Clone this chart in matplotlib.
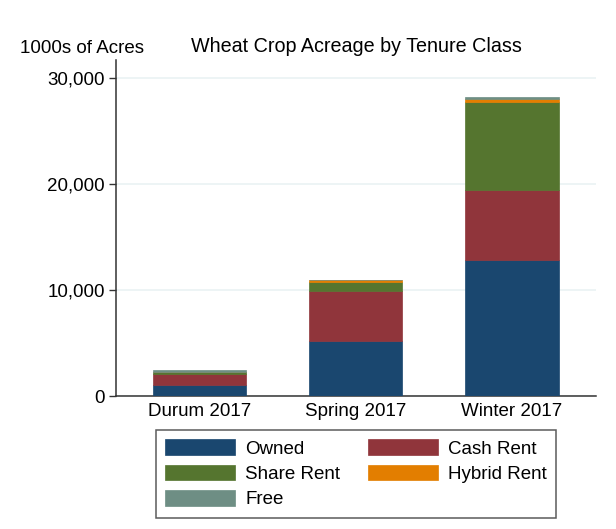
import matplotlib
matplotlib.use("Agg")
import matplotlib.pyplot as plt
import numpy as np

plt.rcParams['font.family'] = ['Liberation Sans', 'DejaVu Sans']

categories = ["Durum 2017", "Spring 2017", "Winter 2017"]
series_names = ["Owned", "Cash Rent", "Share Rent", "Hybrid Rent", "Free"]
owned = [1040, 5190, 12800]
cash_rent = [1035, 4690, 6630]
share_rent = [185, 870, 8270]
hybrid_rent = [30, 150, 320]
free = [160, 60, 220]
colors = ["#1a476f", "#90353b", "#55752f", "#e37e00", "#6e8e84"]
yticks = [0, 10000, 20000, 30000]

fs = 13.5
fig = plt.figure(figsize=(6.16, 5.29), dpi=100)
ax = fig.add_axes([0.188, 0.2514, 0.7795, 0.6352])

x = np.arange(len(categories))
bottom = np.zeros(len(categories))
handles = []
for name, vals, c in zip(series_names, [owned, cash_rent, share_rent, hybrid_rent, free], colors):
    b = ax.bar(x, vals, width=0.6, bottom=bottom, color=c, edgecolor=c, linewidth=0.5, label=name, zorder=3)
    handles.append(b)
    bottom += np.array(vals)

ax.set_xlim(-0.535, 2.54)
ax.set_ylim(0, 31700)
ax.set_yticks(yticks)
ax.set_yticklabels([f"{v:,}" for v in yticks], fontsize=fs)
ax.set_xticks(x)
ax.set_xticklabels(categories, fontsize=fs)
ax.tick_params(axis='x', length=0, pad=5)
ax.tick_params(axis='y', length=5, width=1, pad=3, color='#333333')
ax.grid(axis='y', color='#eaf2f3', linewidth=1.2, zorder=0)
for s in ['top', 'right']:
    ax.spines[s].set_visible(False)
ax.spines['left'].set_color('#333333')
ax.spines['bottom'].set_color('#333333')
ax.spines['left'].set_linewidth(1.1)
ax.spines['bottom'].set_linewidth(1.1)

fig.text(0.578, 0.912, "Wheat Crop Acreage by Tenure Class", ha='center', va='center', fontsize=14.2)
fig.text(0.032, 0.909, "1000s of Acres", ha='left', va='center', fontsize=fs)

order = [0, 2, 4, 1, 3]
leg = fig.legend([handles[i] for i in order], [series_names[i] for i in order],
                 ncol=2, loc='center', bbox_to_anchor=(0.578, 0.104),
                 fontsize=fs, handlelength=3.7, handleheight=0.9,
                 frameon=True, fancybox=False, edgecolor='#333333',
                 borderpad=0.5, labelspacing=0.38, columnspacing=1.5, handletextpad=0.55)
leg.get_frame().set_linewidth(1.1)

fig.savefig("out.png", dpi=100)
